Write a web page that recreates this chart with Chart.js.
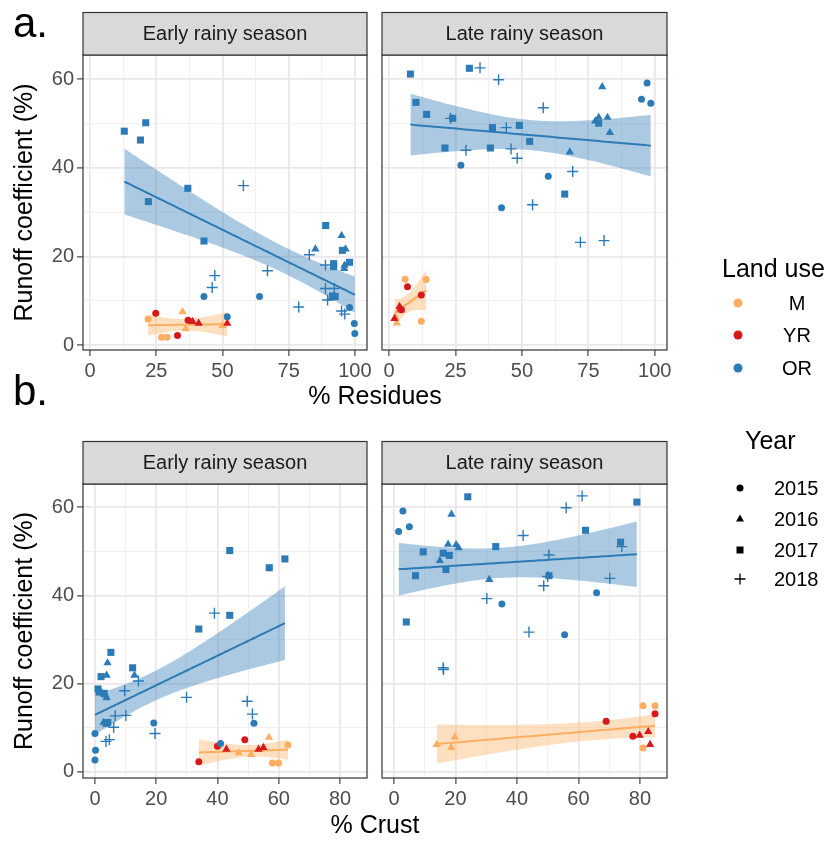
<!DOCTYPE html>
<html>
<head>
<meta charset="utf-8">
<script src="https://cdn.jsdelivr.net/npm/chart.js@4.4.1/dist/chart.umd.min.js"></script>
<style>
body { margin: 0; background: #fff; }
#wrap { position: relative; width: 830px; height: 842px; overflow: hidden; font-family: "Liberation Sans", Arial, sans-serif; }
canvas { position: absolute; }
#over { position: absolute; left: 0; top: 0; }
</style>
</head>
<body>
<div id="wrap">
  <canvas id="aEarly" width="354" height="360" style="left:33px;top:35px"></canvas>
  <canvas id="aLate" width="355" height="360" style="left:332px;top:35px"></canvas>
  <canvas id="bEarly" width="354" height="359" style="left:33px;top:464px"></canvas>
  <canvas id="bLate" width="355" height="359" style="left:332px;top:464px"></canvas>
  <svg id="over" width="830" height="842" font-family="Liberation Sans, Arial, sans-serif">
    <text x="13" y="37" font-size="42">a.</text>
    <text x="13" y="405" font-size="42">b.</text>

    <rect x="83" y="12.5" width="284" height="42.5" fill="#d9d9d9" stroke="#333" stroke-width="1.2"/>
    <rect x="382" y="12.5" width="285" height="42.5" fill="#d9d9d9" stroke="#333" stroke-width="1.2"/>
    <rect x="83" y="441.5" width="284" height="42.5" fill="#d9d9d9" stroke="#333" stroke-width="1.2"/>
    <rect x="382" y="441.5" width="285" height="42.5" fill="#d9d9d9" stroke="#333" stroke-width="1.2"/>
    <g font-size="20" fill="#1a1a1a" text-anchor="middle">
      <text x="225" y="40">Early rainy season</text>
      <text x="524.5" y="40">Late rainy season</text>
      <text x="225" y="469">Early rainy season</text>
      <text x="524.5" y="469">Late rainy season</text>
    </g>

    <g font-size="25" text-anchor="middle">
      <text transform="translate(32,202.5) rotate(-90)">Runoff coefficient (%)</text>
      <text transform="translate(32,631) rotate(-90)">Runoff coefficient (%)</text>
      <text x="375" y="404">% Residues</text>
      <text x="375" y="833">% Crust</text>
    </g>

    <text x="722" y="277" font-size="25">Land use</text>
    <g id="useKeys"></g>
    <text x="745" y="449" font-size="25">Year</text>
    <g id="yearKeys"></g>
  </svg>
</div>
<script>
const landUses = ['M', 'YR', 'OR'];
const useColors = ['#FDAE61', '#D7191C', '#2C7BB6'];
const years = [2015, 2016, 2017, 2018];
const yearStyles = ['circle', 'triangle', 'rect', 'cross'];

const yTicks = [0, 10, 20, 30, 40, 50, 60];
const yLabels = [0, 20, 40, 60];
const resTicks = [0, 12.5, 25, 37.5, 50, 62.5, 75, 87.5, 100];
const resLabels = [0, 25, 50, 75, 100];
const crustTicks = [0, 10, 20, 30, 40, 50, 60, 70, 80];
const crustLabels = [0, 20, 40, 60, 80];

// rows: [land use, year, x, runoff coefficient]
const resEarly = [
  ['OR', 2015, 43.0, 11.0], ['OR', 2015, 64.0, 11.0], ['OR', 2015, 51.8, 6.4], ['OR', 2015, 98.0, 8.5], ['OR', 2015, 99.8, 4.9], ['OR', 2015, 100, 2.6],
  ['OR', 2016, 85.1, 21.7], ['OR', 2016, 95.0, 24.7], ['OR', 2016, 96.5, 21.7], ['OR', 2016, 96.1, 18.0], ['OR', 2016, 96.0, 17.3], ['OR', 2016, 91.0, 10.6],
  ['OR', 2017, 12.9, 48.3], ['OR', 2017, 21.0, 50.2], ['OR', 2017, 19.0, 46.3], ['OR', 2017, 22.0, 32.4], ['OR', 2017, 36.9, 35.4], ['OR', 2017, 43.0, 23.5],
  ['OR', 2017, 89.0, 27.0], ['OR', 2017, 95.3, 21.4], ['OR', 2017, 92.0, 18.4], ['OR', 2017, 92.0, 17.7], ['OR', 2017, 98.0, 18.7], ['OR', 2017, 91.6, 11.1], ['OR', 2017, 92.6, 11.0],
  ['OR', 2018, 57.9, 36.0], ['OR', 2018, 47.1, 15.7], ['OR', 2018, 46.1, 13.0], ['OR', 2018, 67.0, 16.8], ['OR', 2018, 78.8, 8.6], ['OR', 2018, 82.8, 20.4],
  ['OR', 2018, 88.9, 18.1], ['OR', 2018, 88.9, 12.8], ['OR', 2018, 89.7, 10.2], ['OR', 2018, 92.2, 12.8], ['OR', 2018, 95.0, 7.7], ['OR', 2018, 96.2, 7.0],
  ['M', 2015, 21.9, 5.9], ['M', 2015, 27.0, 1.8], ['M', 2015, 29.1, 1.8],
  ['M', 2016, 34.9, 7.5], ['M', 2016, 36.1, 3.7], ['M', 2016, 50.0, 4.4],
  ['YR', 2015, 24.8, 7.2], ['YR', 2015, 33.0, 2.2], ['YR', 2015, 37.0, 5.6],
  ['YR', 2016, 38.7, 5.3], ['YR', 2016, 41.0, 4.9], ['YR', 2016, 51.8, 4.9]
];

const resLate = [
  ['OR', 2015, 97.1, 59.2], ['OR', 2015, 95.0, 55.5], ['OR', 2015, 98.5, 54.6], ['OR', 2015, 27.0, 40.6], ['OR', 2015, 59.9, 38.1], ['OR', 2015, 42.3, 31.0],
  ['OR', 2016, 80.2, 58.3], ['OR', 2016, 82.2, 51.4], ['OR', 2016, 83.1, 48.0], ['OR', 2016, 68.0, 43.6], ['OR', 2016, 78.9, 51.4], ['OR', 2016, 77.6, 50.6],
  ['OR', 2017, 8.0, 61.2], ['OR', 2017, 30.2, 62.5], ['OR', 2017, 10.1, 54.8], ['OR', 2017, 14.1, 52.1], ['OR', 2017, 23.9, 51.2], ['OR', 2017, 38.9, 49.1],
  ['OR', 2017, 49.0, 49.6], ['OR', 2017, 52.9, 46.0], ['OR', 2017, 21.0, 44.5], ['OR', 2017, 38.1, 44.5], ['OR', 2017, 66.1, 34.1], ['OR', 2017, 78.9, 50.1],
  ['OR', 2018, 34.2, 62.6], ['OR', 2018, 41.2, 59.9], ['OR', 2018, 58.0, 53.6], ['OR', 2018, 23.1, 51.2], ['OR', 2018, 44.1, 49.1], ['OR', 2018, 28.9, 44.0],
  ['OR', 2018, 45.9, 44.3], ['OR', 2018, 48.2, 42.2], ['OR', 2018, 69.1, 39.2], ['OR', 2018, 54.0, 31.7], ['OR', 2018, 72.0, 23.2], ['OR', 2018, 80.9, 23.6],
  ['M', 2015, 6.0, 14.9], ['M', 2015, 13.9, 14.8], ['M', 2015, 12.1, 5.4],
  ['M', 2016, 2.9, 5.0], ['M', 2016, 2.4, 6.3], ['M', 2016, 4.4, 7.8],
  ['YR', 2015, 6.9, 13.2], ['YR', 2015, 12.1, 11.3], ['YR', 2015, 4.6, 8.0],
  ['YR', 2016, 2.0, 6.0], ['YR', 2016, 3.9, 8.7], ['YR', 2016, 4.3, 8.2]
];

const crustEarly = [
  ['OR', 2015, 19.2, 11.1], ['OR', 2015, 51.9, 11.0], ['OR', 2015, 0.0, 8.7], ['OR', 2015, 0.2, 4.9], ['OR', 2015, 0.0, 2.7], ['OR', 2015, 41.0, 6.4],
  ['OR', 2016, 4.1, 24.7], ['OR', 2016, 3.8, 21.9], ['OR', 2016, 12.9, 21.9], ['OR', 2016, 3.4, 17.4], ['OR', 2016, 3.8, 16.8], ['OR', 2016, 2.8, 11.2],
  ['OR', 2017, 44.0, 50.2], ['OR', 2017, 56.9, 46.3], ['OR', 2017, 62.0, 48.3], ['OR', 2017, 33.9, 32.4], ['OR', 2017, 44.0, 35.5], ['OR', 2017, 5.2, 27.1],
  ['OR', 2017, 12.3, 23.6], ['OR', 2017, 2.0, 21.6], ['OR', 2017, 1.0, 18.8], ['OR', 2017, 1.3, 18.1], ['OR', 2017, 3.0, 17.8], ['OR', 2017, 4.2, 11.2], ['OR', 2017, 3.6, 11.0],
  ['OR', 2018, 39.0, 36.0], ['OR', 2018, 14.2, 20.6], ['OR', 2018, 9.7, 18.4], ['OR', 2018, 29.9, 16.9], ['OR', 2018, 49.7, 16.0], ['OR', 2018, 51.4, 13.1],
  ['OR', 2018, 6.6, 12.7], ['OR', 2018, 10.1, 12.8], ['OR', 2018, 6.1, 10.1], ['OR', 2018, 19.6, 8.7], ['OR', 2018, 4.7, 7.3], ['OR', 2018, 3.6, 6.9],
  ['M', 2015, 63.0, 6.1], ['M', 2015, 57.9, 2.0], ['M', 2015, 59.9, 2.0],
  ['M', 2016, 56.8, 7.8], ['M', 2016, 46.9, 4.3], ['M', 2016, 51.0, 3.9],
  ['YR', 2015, 33.9, 2.3], ['YR', 2015, 40.0, 5.8], ['YR', 2015, 48.9, 7.3],
  ['YR', 2016, 42.9, 5.1], ['YR', 2016, 53.4, 5.1], ['YR', 2016, 55.0, 5.5]
];

const crustLate = [
  ['OR', 2015, 2.9, 59.2], ['OR', 2015, 1.5, 54.5], ['OR', 2015, 5.0, 55.6], ['OR', 2015, 35.1, 38.1], ['OR', 2015, 55.5, 31.1], ['OR', 2015, 65.9, 40.6],
  ['OR', 2016, 18.7, 58.4], ['OR', 2016, 17.6, 51.6], ['OR', 2016, 20.2, 51.5], ['OR', 2016, 21.0, 50.8], ['OR', 2016, 14.9, 47.9], ['OR', 2016, 31.0, 43.6],
  ['OR', 2017, 24.0, 62.4], ['OR', 2017, 79.0, 61.2], ['OR', 2017, 62.3, 54.8], ['OR', 2017, 73.7, 52.1], ['OR', 2017, 33.1, 51.1], ['OR', 2017, 9.5, 49.9],
  ['OR', 2017, 16.0, 49.6], ['OR', 2017, 18.0, 49.1], ['OR', 2017, 16.9, 45.9], ['OR', 2017, 7.0, 44.5], ['OR', 2017, 50.4, 44.5], ['OR', 2017, 4.0, 34.0],
  ['OR', 2018, 61.2, 62.6], ['OR', 2018, 56.0, 59.9], ['OR', 2018, 42.0, 53.6], ['OR', 2018, 50.4, 49.2], ['OR', 2018, 74.1, 51.1], ['OR', 2018, 50.0, 44.3],
  ['OR', 2018, 70.2, 43.9], ['OR', 2018, 48.7, 42.2], ['OR', 2018, 30.2, 39.3], ['OR', 2018, 43.9, 31.7], ['OR', 2018, 16.0, 23.6], ['OR', 2018, 16.1, 23.2],
  ['M', 2015, 81.0, 15.0], ['M', 2015, 84.9, 15.0], ['M', 2015, 81.0, 5.4],
  ['M', 2016, 13.9, 6.2], ['M', 2016, 18.6, 5.5], ['M', 2016, 19.8, 7.9],
  ['YR', 2015, 69.0, 11.5], ['YR', 2015, 84.9, 13.2], ['YR', 2015, 77.7, 8.1],
  ['YR', 2016, 79.9, 8.3], ['YR', 2016, 82.7, 9.1], ['YR', 2016, 83.3, 6.2]
];

const FONT = '"Liberation Sans", Arial, sans-serif';
const gridMajor = '#ece6ea', gridMinor = '#f1edf0';

function rgba(hex, a) {
  const n = parseInt(hex.slice(1), 16);
  return `rgba(${n >> 16},${(n >> 8) & 255},${n & 255},${a})`;
}

// 97.5% quantile of t distribution (Cornish-Fisher expansion)
function tq(df) {
  const z = 1.959964;
  const g1 = (z ** 3 + z) / 4;
  const g2 = (5 * z ** 5 + 16 * z ** 3 + 3 * z) / 96;
  const g3 = (3 * z ** 7 + 19 * z ** 5 + 17 * z ** 3 - 15 * z) / 384;
  return z + g1 / df + g2 / df ** 2 + g3 / df ** 3;
}

// linear model + 95% confidence band, like geom_smooth(method = "lm")
function lmFit(rows) {
  const xs = rows.map(r => r[2]), ys = rows.map(r => r[3]);
  const n = xs.length;
  const mx = xs.reduce((s, v) => s + v, 0) / n, my = ys.reduce((s, v) => s + v, 0) / n;
  let sxx = 0, sxy = 0;
  for (let i = 0; i < n; i++) { sxx += (xs[i] - mx) ** 2; sxy += (xs[i] - mx) * (ys[i] - my); }
  const b = sxy / sxx, a = my - b * mx;
  let sse = 0;
  for (let i = 0; i < n; i++) sse += (ys[i] - a - b * xs[i]) ** 2;
  const s = Math.sqrt(sse / (n - 2)), t = tq(n - 2);
  const lo = Math.min(...xs), hi = Math.max(...xs);
  const mid = [], up = [], dn = [];
  for (let k = 0; k < 80; k++) {
    const x = lo + (hi - lo) * k / 79;
    const y = a + b * x;
    const se = s * Math.sqrt(1 / n + (x - mx) ** 2 / sxx);
    mid.push({x, y}); up.push({x, y: y + t * se}); dn.push({x, y: y - t * se});
  }
  return {mid, up, dn};
}

const styleOf = c => c.raw ? yearStyles[years.indexOf(c.raw.year)] : 'circle';
const radiusOf = c => ({circle: 3.5, triangle: 4.8, rect: 5, cross: 5.5})[styleOf(c)];

const panelBorder = {
  id: 'panelBorder',
  afterDraw(chart) {
    const a = chart.chartArea, c = chart.ctx;
    c.save();
    c.strokeStyle = '#333'; c.lineWidth = 1.2;
    c.strokeRect(a.left, a.top, a.right - a.left, a.bottom - a.top);
    c.restore();
  }
};

function axis(min, max, ticks, labels, showLabels, fitSide, size) {
  const isMajor = c => labels.includes(c.tick.value);
  return {
    type: 'linear', min, max,
    afterBuildTicks: s => { s.ticks = ticks.map(v => ({value: v})); },
    afterFit: s => { s[fitSide] = size; },
    border: {display: false},
    grid: {
      color: c => isMajor(c) ? gridMajor : gridMinor,
      lineWidth: c => isMajor(c) ? 1.8 : 0.9,
      drawTicks: showLabels,
      tickLength: 6,
      tickWidth: 1.1,
      tickColor: c => isMajor(c) ? '#333' : 'rgba(0,0,0,0)'
    },
    ticks: {
      display: showLabels, autoSkip: false, maxRotation: 0, padding: 3,
      color: '#4d4d4d', font: {family: FONT, size: 20},
      callback: v => labels.includes(v) ? String(v) : ''
    }
  };
}

function panel(id, rows, xMin, xMax, xTicks, xLabels, yMin, yMax, showY) {
  const datasets = [];
  // points, OR on top
  [2, 1, 0].forEach(u => {
    const col = useColors[u];
    datasets.push({
      data: rows.filter(r => r[0] === landUses[u]).map(r => ({x: r[2], y: r[3], year: r[1]})),
      showLine: false,
      pointStyle: styleOf,
      pointRadius: radiusOf,
      pointBackgroundColor: col,
      pointBorderColor: col,
      pointBorderWidth: c => styleOf(c) === 'cross' ? 1.4 : 0
    });
  });
  const fits = [lmFit(rows.filter(r => r[0] === 'OR')), lmFit(rows.filter(r => r[0] !== 'OR'))];
  const fitCols = [useColors[2], useColors[0]];
  fits.forEach((f, i) => datasets.push({data: f.mid, borderColor: fitCols[i], borderWidth: 2, pointRadius: 0, fill: false}));
  fits.forEach((f, i) => {
    datasets.push({data: f.up, borderWidth: 0, pointRadius: 0, fill: '+1', backgroundColor: rgba(fitCols[i], 0.4)});
    datasets.push({data: f.dn, borderWidth: 0, pointRadius: 0, fill: false});
  });

  new Chart(document.getElementById(id), {
    type: 'line',
    data: {datasets},
    options: {
      responsive: false, animation: false, devicePixelRatio: 1, events: [],
      layout: {padding: {top: 20, right: 20, left: 0, bottom: 0}},
      elements: {line: {tension: 0}},
      plugins: {legend: {display: false}, tooltip: {enabled: false}},
      scales: {
        x: axis(xMin, xMax, xTicks, xLabels, true, 'height', 45),
        y: axis(yMin, yMax, yTicks, yLabels, showY, 'width', 50)
      }
    },
    plugins: [panelBorder]
  });
}

panel('aEarly', resEarly, -2.7, 104.6, resTicks, resLabels, -1.1, 65.5, true);
panel('aLate', resLate, -2.7, 104.6, resTicks, resLabels, -1.1, 65.5, false);
panel('bEarly', crustEarly, -3.9, 88.8, crustTicks, crustLabels, -1.4, 65.3, true);
panel('bLate', crustLate, -3.9, 88.8, crustTicks, crustLabels, -1.4, 65.3, false);

// legend keys
const NS = 'http://www.w3.org/2000/svg';
function el(parent, tag, attrs, text) {
  const e = document.createElementNS(NS, tag);
  Object.entries(attrs).forEach(([k, v]) => e.setAttribute(k, v));
  if (text) e.textContent = text;
  document.getElementById(parent).appendChild(e);
}
const useY = [303, 335, 368];
landUses.forEach((u, i) => {
  el('useKeys', 'circle', {cx: 738, cy: useY[i], r: 4.5, fill: useColors[i]});
  el('useKeys', 'text', {x: 797, y: useY[i] + 7, 'font-size': 20, 'text-anchor': 'middle'}, u);
});
const yearY = [488, 519, 550, 579];
years.forEach((yr, i) => {
  const cx = 740, cy = yearY[i];
  if (yearStyles[i] === 'circle') el('yearKeys', 'circle', {cx, cy, r: 3.5, fill: '#000'});
  if (yearStyles[i] === 'triangle') el('yearKeys', 'path', {d: `M${cx},${cy - 4.5}L${cx + 4},${cy + 2.5}L${cx - 4},${cy + 2.5}Z`, fill: '#000'});
  if (yearStyles[i] === 'rect') el('yearKeys', 'rect', {x: cx - 3.5, y: cy - 3.5, width: 7, height: 7, fill: '#000'});
  if (yearStyles[i] === 'cross') el('yearKeys', 'path', {d: `M${cx - 5.5},${cy}H${cx + 5.5}M${cx},${cy - 5.5}V${cy + 5.5}`, stroke: '#000', 'stroke-width': 1.3});
  el('yearKeys', 'text', {x: 774, y: cy + 7, 'font-size': 20}, String(yr));
});
</script>
</body>
</html>
